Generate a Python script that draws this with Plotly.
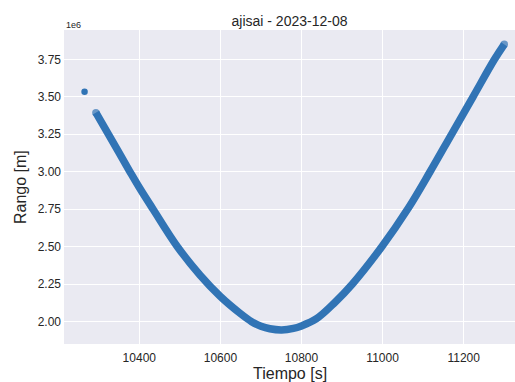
import plotly.graph_objects as go

# Data
tiempo_s = [10293, 10324, 10377, 10400, 10434, 10494, 10550, 10600, 10648, 10677,
            10700, 10722, 10751, 10780, 10800, 10837, 10881, 10925, 10998, 11064,
            11117, 11170, 11223, 11276, 11300]
rango_m = [3.394e6, 3.25e6, 3.00e6, 2.895e6, 2.75e6, 2.50e6, 2.31e6, 2.168e6, 2.057e6, 2.00e6,
           1.970e6, 1.953e6, 1.945e6, 1.955e6, 1.972e6, 2.02e6, 2.125e6, 2.25e6, 2.50e6, 2.76e6,
           3.00e6, 3.25e6, 3.50e6, 3.75e6, 3.85e6]

outlier_t = [10265]
outlier_r = [3.534e6]

x_ticks = [10400, 10600, 10800, 11000, 11200]
x_ticktext = ["10400", "10600", "10800", "11000", "11200"]
y_ticks = [2.00e6, 2.25e6, 2.50e6, 2.75e6, 3.00e6, 3.25e6, 3.50e6, 3.75e6]
y_ticktext = ["2.00", "2.25", "2.50", "2.75", "3.00", "3.25", "3.50", "3.75"]

title_text = "ajisai - 2023-12-08"
x_label = "Tiempo [s]"
y_label = "Rango [m]"

color = "#3174b5"
font_family = "Liberation Sans, Arial, sans-serif"
text_color = "#262626"

cap_sizes = [7.5] + [0] * (len(tiempo_s) - 2) + [7.5]

fig = go.Figure()
fig.add_trace(go.Scatter(
    x=tiempo_s, y=rango_m, mode="lines+markers",
    line=dict(color=color, width=7.5, shape="spline", smoothing=1.0),
    marker=dict(color=color, size=cap_sizes, line=dict(width=0)),
    showlegend=False, hoverinfo="skip"))
fig.add_trace(go.Scatter(
    x=outlier_t, y=outlier_r, mode="markers",
    marker=dict(color=color, size=6.5, line=dict(width=0)),
    showlegend=False, hoverinfo="skip"))

fig.update_layout(
    width=515, height=382,
    margin=dict(l=64, r=0, t=30, b=38),
    paper_bgcolor="white", plot_bgcolor="#EAEAF2",
    font=dict(family=font_family, color=text_color, size=12),
    title=dict(text=title_text, x=0.5, xref="paper", y=1 - 21 / 382,
               yref="container", yanchor="middle", xanchor="center",
               font=dict(size=14, color=text_color, family=font_family)),
    xaxis=dict(range=[10214.3, 11326.5], tickvals=x_ticks, ticktext=x_ticktext,
               showgrid=True, gridcolor="white", gridwidth=1,
               zeroline=False, showline=False, ticks="", ticklabelstandoff=5,
               tickfont=dict(size=12, color=text_color)),
    yaxis=dict(range=[1.8512e6, 3.9455e6], tickvals=y_ticks, ticktext=y_ticktext,
               showgrid=True, gridcolor="white", gridwidth=1,
               zeroline=False, showline=False, ticks="", ticklabelstandoff=2,
               tickfont=dict(size=12, color=text_color)),
    annotations=[
        dict(text="1e6", x=0, y=1, xref="paper", yref="paper", xanchor="left",
             yanchor="bottom", showarrow=False, yshift=-2,
             font=dict(size=9, color=text_color)),
        dict(text=x_label, x=0.5, y=-(373 - 344) / 314, xref="paper", yref="paper",
             xanchor="center", yanchor="middle", showarrow=False,
             font=dict(size=16, color=text_color)),
        dict(text=y_label, x=(20 - 64) / 451, y=0.5, xref="paper", yref="paper",
             xanchor="center", yanchor="middle", textangle=-90, showarrow=False,
             font=dict(size=16, color=text_color)),
    ],
)

fig.write_html("out.html")
